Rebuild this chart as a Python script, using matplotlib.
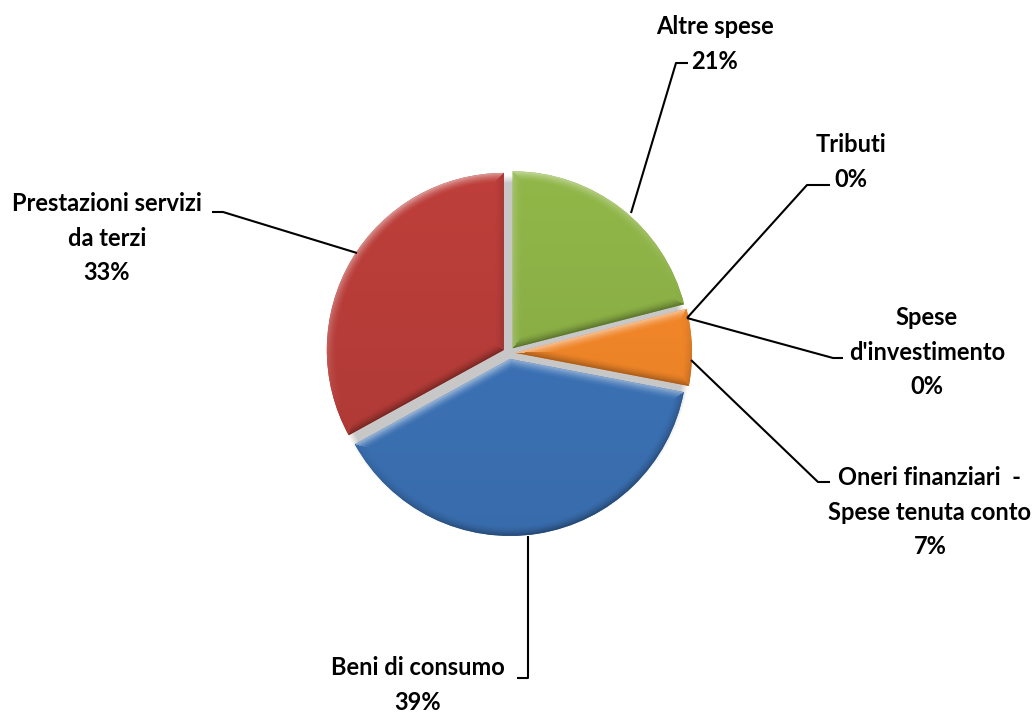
import numpy as np
import matplotlib
matplotlib.use("Agg")
import matplotlib.pyplot as plt
from matplotlib.colors import to_rgb

# --- data -------------------------------------------------------------
categories = [
    "Altre spese",
    "Tributi",
    "Spese\nd'investimento",
    "Oneri finanziari  -\nSpese tenuta conto",
    "Beni di consumo",
    "Prestazioni servizi\nda terzi",
]
values = [21, 0, 0, 7, 39, 33]
colors = ["#8aae45", "#7d60a0", "#46aac5", "#ee8428", "#3b71b4", "#b53c38"]

W, H = 1036, 713
fig = plt.figure(figsize=(W / 100, H / 100), dpi=100)
ax = fig.add_axes([0, 0, 1, 1])


def py(y):
    """Convert a top-down pixel row into the axes' y coordinate."""
    return H - y


cx, cy, R = 509, py(353), 177
gap = 6  # explode offset, in pixels

# soft shadow under the pie (shows through the gaps between slices)
gx = np.arange(0, W) + 0.5
gy = np.arange(0, H) + 0.5
GX, GY = np.meshgrid(gx, gy)
dist = np.hypot(GX - cx - 1, GY - (cy - 3))
shadow = np.clip((R + 4 - dist) / 8.0, 0, 1) * 0.38
rgba = np.zeros((H, W, 4))
rgba[..., :3] = 0.42
rgba[..., 3] = shadow
ax.imshow(rgba, extent=(0, W, 0, H), origin="lower", zorder=0,
          interpolation="bilinear")

wedges, _ = ax.pie(
    values,
    colors=colors,
    startangle=90,
    counterclock=False,
    center=(cx, cy),
    radius=R,
    explode=[gap] * len(values),
    wedgeprops=dict(linewidth=0),
    frame=True,
)

# bevelled shading painted inside each wedge
light = np.array([-0.35, 0.94])
for w, col in zip(wedges, colors):
    if w.theta2 - w.theta1 < 1e-6:
        w.set_visible(False)
        continue
    wx, wy = w.center
    base = np.array(to_rgb(col))
    x0, x1 = int(wx - R - 2), int(wx + R + 2)
    y0, y1 = int(wy - R - 2), int(wy + R + 2)
    xs = np.arange(x0, x1) + 0.5
    ys = np.arange(y0, y1) + 0.5
    X, Y = np.meshgrid(xs, ys)
    dx, dy = X - wx, Y - wy
    r = np.hypot(dx, dy)
    t1, t2 = np.radians(w.theta1), np.radians(w.theta2)
    d_arc = R - r
    rn = np.maximum(r, 1e-9)
    u1 = np.array([np.cos(t1), np.sin(t1)])
    u2 = np.array([np.cos(t2), np.sin(t2)])
    d1 = dx * (-u1[1]) + dy * u1[0]
    d2 = dx * u2[1] - dy * u2[0]
    n1 = np.array([u1[1], -u1[0]])
    n2 = np.array([-u2[1], u2[0]])
    stack = np.stack([d_arc, np.abs(d1), np.abs(d2)])
    d = stack.min(0)
    which = stack.argmin(0)
    nx = np.where(which == 0, dx / rn, np.where(which == 1, n1[0], n2[0]))
    ny = np.where(which == 0, dy / rn, np.where(which == 1, n1[1], n2[1]))
    bw = 10.0
    k = np.clip(1 - d / bw, 0, 1) ** 1.6
    shade = k * (nx * light[0] + ny * light[1])
    vert = (Y - wy) / R * 0.05
    img = base[None, None, :] * (1 + vert[..., None])
    img = np.where(shade[..., None] > 0,
                   img + (1 - img) * shade[..., None] * 0.5,
                   img * (1 + shade[..., None] * 0.35))
    img = np.clip(img, 0, 1)
    im = ax.imshow(img, extent=(x0, x1, y0, y1), origin="lower", zorder=2,
                   interpolation="bilinear")
    im.set_clip_path(w)

for w in wedges:
    w.set_zorder(1)

ax.set_xlim(0, W)
ax.set_ylim(0, H)
ax.set_aspect("equal")
ax.axis("off")

# --- labels and leader lines -----------------------------------------
total = sum(values)
label_pos = [
    (715, 44),
    (851, 162),
    (927, 352),
    (930, 512),
    (418, 685),
    (107, 238),
]
leaders = [
    [(631, 213), (676, 63), (688, 63)],
    [(687, 318), (807, 185), (830, 185)],
    [(687, 318), (833, 358), (843, 358)],
    [(691, 360), (818, 482), (830, 482)],
    [(528, 536), (528, 678), (517, 678)],
    [(357, 253), (223, 212), (212, 212)],
]
for name, v, (lx, ly), pts in zip(categories, values, label_pos, leaders):
    pct = round(100 * v / total)
    ax.text(lx, py(ly), f"{name}\n{pct}%", ha="center", va="center",
            fontsize=17, fontweight="bold", family="Lato",
            linespacing=1.62, color="black", zorder=5)
    xs = [p[0] for p in pts]
    ys = [py(p[1]) for p in pts]
    ax.plot(xs, ys, color="black", lw=1.5, zorder=4, solid_capstyle="butt")

fig.savefig("out.png", dpi=100)
